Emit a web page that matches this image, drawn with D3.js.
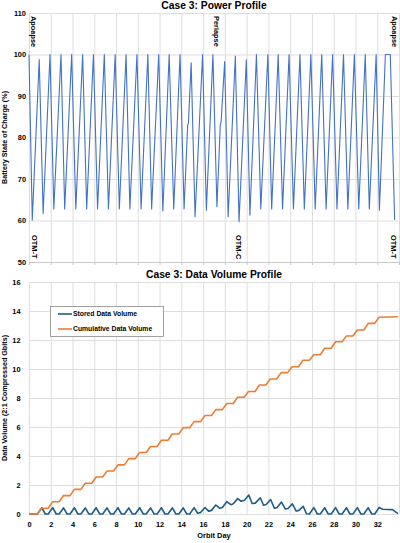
<!DOCTYPE html>
<html>
<head>
<meta charset="utf-8">
<script src="https://cdn.jsdelivr.net/npm/d3@7"></script>
<style>
	body { margin: 0; background: #fff; }
	svg { display: block; font-family: "Liberation Sans", Arial, sans-serif; font-weight: bold; }
	.grid line { stroke: #dedede; stroke-width: 1; }
	.grid path { display: none; }
	.axis path { display: none; }
	.axis line { display: none; }
	.axis text { fill: #000; font-size: 7.4px; font-weight: bold; }
</style>
</head>
<body>
<main></main>
<script>
	// battery state of charge, [orbit day, %]
	const socProfile = [
		[0, 100], [0.3, 60.1], [0.94, 98.8],
		[1.3, 61.7], [1.93, 100],
		[2.28, 62.8], [2.94, 100],
		[3.28, 62.8], [3.92, 100],
		[4.3, 62.8], [4.93, 100],
		[5.3, 62.8], [5.92, 100],
		[6.3, 62.8], [6.92, 100],
		[7.3, 62.8], [7.92, 100],
		[8.3, 62.8], [8.92, 100],
		[9.27, 62.8], [9.92, 100],
		[10.3, 62.8], [10.92, 100],
		[11.27, 62.8], [11.92, 100],
		[12.3, 62.3], [12.88, 100],
		[13.3, 62.8], [13.88, 100],
		[14.25, 62.8], [14.58, 83], [14.65, 83.4], [14.9, 98],
		[15.26, 60.9], [15.95, 100],
		[16.3, 62.5], [16.9, 100],
		[17.27, 63.3], [17.58, 83.2], [17.65, 83.6], [17.98, 98.3],
		[18.3, 60.9], [18.96, 99.6],
		[19.3, 59.7], [19.97, 98.7],
		[20.3, 61.3], [20.9, 100],
		[21.3, 62.8], [21.95, 100],
		[22.3, 62.8], [22.9, 100],
		[23.3, 62.8], [23.9, 100],
		[24.3, 62.8], [24.9, 100],
		[25.3, 62.8], [25.9, 100],
		[26.3, 62.8], [26.9, 100],
		[27.3, 62.8], [27.9, 100],
		[28.3, 62.8], [28.9, 100],
		[29.3, 62.8], [29.9, 100],
		[30.3, 62.8], [30.9, 100],
		[31.27, 62.8], [31.9, 100],
		[32.2, 62.5], [32.75, 100], [33.2, 100], [33.6, 60.1]
	];

	// stored data volume, [orbit day, Gbits]
	const storedVolume = [
		[0, 0], [0.77, 0],
		[1.17, 0.42], [1.5, 0], [1.77, 0],
		[2.17, 0.44], [2.5, 0], [2.77, 0],
		[3.17, 0.42], [3.5, 0], [3.77, 0],
		[4.17, 0.43], [4.5, 0], [4.77, 0],
		[5.17, 0.42], [5.5, 0], [5.77, 0],
		[6.17, 0.43], [6.5, 0], [6.77, 0],
		[7.17, 0.42], [7.5, 0], [7.77, 0],
		[8.17, 0.43], [8.5, 0], [8.77, 0],
		[9.17, 0.42], [9.5, 0], [9.77, 0],
		[10.17, 0.43], [10.5, 0], [10.77, 0],
		[11.17, 0.42], [11.5, 0], [11.77, 0],
		[12.17, 0.43], [12.5, 0], [12.77, 0],
		[13.17, 0.42], [13.5, 0], [13.77, 0],
		[14.17, 0.42], [14.5, 0], [14.77, 0],
		[15.17, 0.44], [15.5, 0.05], [15.77, 0.1],
		[16.17, 0.45], [16.5, 0.2], [16.77, 0.25],
		[17.17, 0.62], [17.5, 0.4], [17.77, 0.45],
		[18.17, 0.85], [18.55, 0.64], [18.77, 0.7],
		[19.17, 1.06], [19.5, 0.88], [19.8, 0.95],
		[20.2, 1.31], [20.5, 0.72], [20.8, 0.75],
		[21.25, 1.12], [21.55, 0.6], [21.8, 0.65],
		[22.2, 1.0], [22.55, 0.4], [22.8, 0.45],
		[23.2, 0.82], [23.55, 0.35], [23.8, 0.38],
		[24.2, 0.7], [24.55, 0.2], [24.8, 0.25],
		[25.2, 0.53], [25.5, 0.02], [25.77, 0],
		[26.17, 0.44], [26.5, 0], [26.77, 0],
		[27.17, 0.43], [27.5, 0], [27.77, 0],
		[28.17, 0.44], [28.5, 0], [28.77, 0],
		[29.17, 0.43], [29.5, 0], [29.77, 0],
		[30.17, 0.44], [30.5, 0], [30.77, 0],
		[31.17, 0.43], [31.5, 0], [31.77, 0],
		[32.17, 0.45], [32.5, 0.33], [33.4, 0.3], [33.9, 0.03]
	];

	// cumulative data volume, [orbit day, Gbits]
	const cumulativeVolume = [
		[0, 0], [0.77, 0],
		[1.17, 0.40], [1.77, 0.40],
		[2.17, 0.85], [2.77, 0.85],
		[3.17, 1.27], [3.77, 1.27],
		[4.17, 1.70], [4.77, 1.70],
		[5.17, 2.12], [5.77, 2.12],
		[6.17, 2.55], [6.77, 2.55],
		[7.17, 2.97], [7.77, 2.97],
		[8.17, 3.39], [8.77, 3.39],
		[9.17, 3.82], [9.77, 3.82],
		[10.17, 4.24], [10.77, 4.24],
		[11.17, 4.66], [11.77, 4.66],
		[12.17, 5.09], [12.77, 5.09],
		[13.17, 5.52], [13.77, 5.52],
		[14.17, 5.96], [14.77, 5.96],
		[15.17, 6.37], [15.77, 6.37],
		[16.17, 6.79], [16.77, 6.79],
		[17.17, 7.20], [17.77, 7.20],
		[18.17, 7.62], [18.77, 7.62],
		[19.17, 8.05], [19.77, 8.05],
		[20.17, 8.45], [20.77, 8.45],
		[21.17, 8.90], [21.77, 8.90],
		[22.17, 9.31], [22.77, 9.31],
		[23.17, 9.75], [23.77, 9.75],
		[24.17, 10.16], [24.77, 10.16],
		[25.17, 10.60], [25.77, 10.60],
		[26.17, 10.98], [26.77, 10.98],
		[27.17, 11.43], [27.77, 11.43],
		[28.17, 11.88], [28.77, 11.88],
		[29.17, 12.28], [29.77, 12.28],
		[30.17, 12.69], [30.77, 12.69],
		[31.17, 13.15], [31.77, 13.15],
		[32.17, 13.57], [33.9, 13.6]
	];

	// orbit events marked on the power chart: [day, label]
	const topEvents = [[0, "Apoapse"], [16.85, "Periapse"], [33.15, "Apoapse"]];
	const bottomEvents = [[0.2, "OTM-T"], [19, "OTM-C"], [33.2, "OTM-T"]];

	const dayTicks = [0, 2, 4, 6, 8, 10, 12, 14, 16, 18, 20, 22, 24, 26, 28, 30, 32];
	const dayGrid = dayTicks.concat([34]);
	const socTicks = [50, 60, 70, 80, 90, 100, 110];
	const volumeTicks = [0, 2, 4, 6, 8, 10, 12, 14, 16];

	const width = 400, height = 543;
	const left = 29, right = 399;

	const svg = d3.select('main')
					.append('svg')
					.attr('width', width)
					.attr('height', height);

	// shared day scale
	const x = d3.scaleLinear().domain([0, 34]).range([left, right]);

	// ---------- power profile ----------
	const ySoc = d3.scaleLinear().domain([50, 110]).range([262, 13]);

	svg.append('g')
		.attr('class', 'grid')
		.attr('transform', `translate(0, 13)`)
		.call(d3.axisBottom(x).tickValues(dayGrid).tickSize(249).tickFormat(''));

	svg.append('g')
		.attr('class', 'grid')
		.attr('transform', `translate(${left}, 0)`)
		.call(d3.axisLeft(ySoc).tickValues(socTicks).tickSize(-(right - left)).tickFormat(''));

	// small tick marks under the power chart
	svg.append('g')
		.attr('transform', `translate(0, 262)`)
		.call(d3.axisBottom(x).tickValues(dayGrid).tickSize(3).tickFormat(''))
		.call((g) => g.select('.domain').attr('stroke', '#c8c8c8'))
		.call((g) => g.selectAll('.tick line').attr('stroke', '#c8c8c8'));

	svg.append('g')
		.attr('class', 'axis')
		.attr('transform', `translate(${left}, 0)`)
		.call(d3.axisLeft(ySoc).tickValues(socTicks).tickSize(0).tickPadding(3));

	const socLine = d3.line()
						.x((d) => x(d[0]))
						.y((d) => ySoc(d[1]));

	svg.append('path')
		.datum(socProfile)
		.attr('d', socLine)
		.style('fill', 'none')
		.style('stroke', '#4472c4')
		.style('stroke-width', 1.1)
		.style('stroke-linejoin', 'round');

	svg.selectAll('.event-top')
		.data(topEvents).enter()
		.append('text')
			.attr('class', 'event-top')
			.attr('transform', (d) => `translate(${x(d[0]) + 2}, 16)rotate(90)`)
			.style('font-size', '7.4px')
			.text((d) => d[1]);

	svg.selectAll('.event-bottom')
		.data(bottomEvents).enter()
		.append('text')
			.attr('class', 'event-bottom')
			.attr('transform', (d) => `translate(${x(d[0]) + 0.5}, 235)rotate(90)`)
			.style('font-size', '7.4px')
			.text((d) => d[1]);

	svg.append('text')
		.attr('x', (left + right) / 2)
		.attr('y', 8.6)
		.style('text-anchor', 'middle')
		.style('font-size', '10.3px')
		.text('Case 3: Power Profile');

	svg.append('text')
		.attr('transform', `translate(6.8, ${(13 + 262) / 2})rotate(-90)`)
		.style('text-anchor', 'middle')
		.style('font-size', '7.2px')
		.text('Battery State of Charge (%)');

	// ---------- data volume profile ----------
	const yVol = d3.scaleLinear().domain([0, 16]).range([514, 282]);

	svg.append('g')
		.attr('class', 'grid')
		.attr('transform', `translate(0, 282)`)
		.call(d3.axisBottom(x).tickValues(dayGrid).tickSize(232).tickFormat(''));

	svg.append('g')
		.attr('class', 'grid')
		.attr('transform', `translate(${left}, 0)`)
		.call(d3.axisLeft(yVol).tickValues(volumeTicks).tickSize(-(right - left)).tickFormat(''));

	svg.append('g')
		.attr('class', 'axis')
		.attr('transform', `translate(${left}, 0)`)
		.call(d3.axisLeft(yVol).tickValues(volumeTicks).tickSize(0).tickPadding(8.5));

	svg.append('g')
		.attr('class', 'axis')
		.attr('transform', `translate(0, 514)`)
		.call(d3.axisBottom(x).tickValues(dayTicks).tickSize(0).tickPadding(8));

	const volLine = d3.line()
						.x((d) => x(d[0]))
						.y((d) => yVol(d[1]));

	const series = [
		{ name: 'Stored Data Volume', color: '#1f5c87', values: storedVolume },
		{ name: 'Cumulative Data Volume', color: '#ed7d31', values: cumulativeVolume }
	];

	svg.selectAll('.series')
		.data(series).enter()
		.append('path')
			.attr('class', 'series')
			.attr('d', (d) => volLine(d.values))
			.style('fill', 'none')
			.style('stroke', (d) => d.color)
			.style('stroke-width', 1.6)
			.style('stroke-linejoin', 'round');

	svg.append('text')
		.attr('x', (left + right) / 2)
		.attr('y', 277.5)
		.style('text-anchor', 'middle')
		.style('font-size', '10.3px')
		.text('Case 3: Data Volume Profile');

	svg.append('text')
		.attr('transform', `translate(6.8, ${(282 + 514) / 2})rotate(-90)`)
		.style('text-anchor', 'middle')
		.style('font-size', '7.2px')
		.text('Data Volume (2:1 Compressed Gbits)');

	svg.append('text')
		.attr('x', (left + right) / 2)
		.attr('y', 537.5)
		.style('text-anchor', 'middle')
		.style('font-size', '7.4px')
		.text('Orbit Day');

	// legend
	const legend = svg.append('g')
						.attr('transform', 'translate(50.5, 306.5)');

	legend.append('rect')
		.attr('width', 113)
		.attr('height', 30)
		.style('fill', '#fff')
		.style('stroke', '#8a8a8a')
		.style('stroke-width', 0.8);

	const item = legend.selectAll('.item')
		.data(series).enter()
		.append('g')
			.attr('class', 'item')
			.attr('transform', (d, i) => `translate(0, ${7.5 + i * 15})`);

	item.append('line')
		.attr('x1', 7.5)
		.attr('x2', 21.5)
		.style('stroke', (d) => d.color)
		.style('stroke-width', 1.6);

	item.append('text')
		.attr('x', 22.5)
		.attr('dy', '0.34em')
		.style('font-size', '6.8px')
		.text((d) => d.name);
</script>
</body>
</html>
